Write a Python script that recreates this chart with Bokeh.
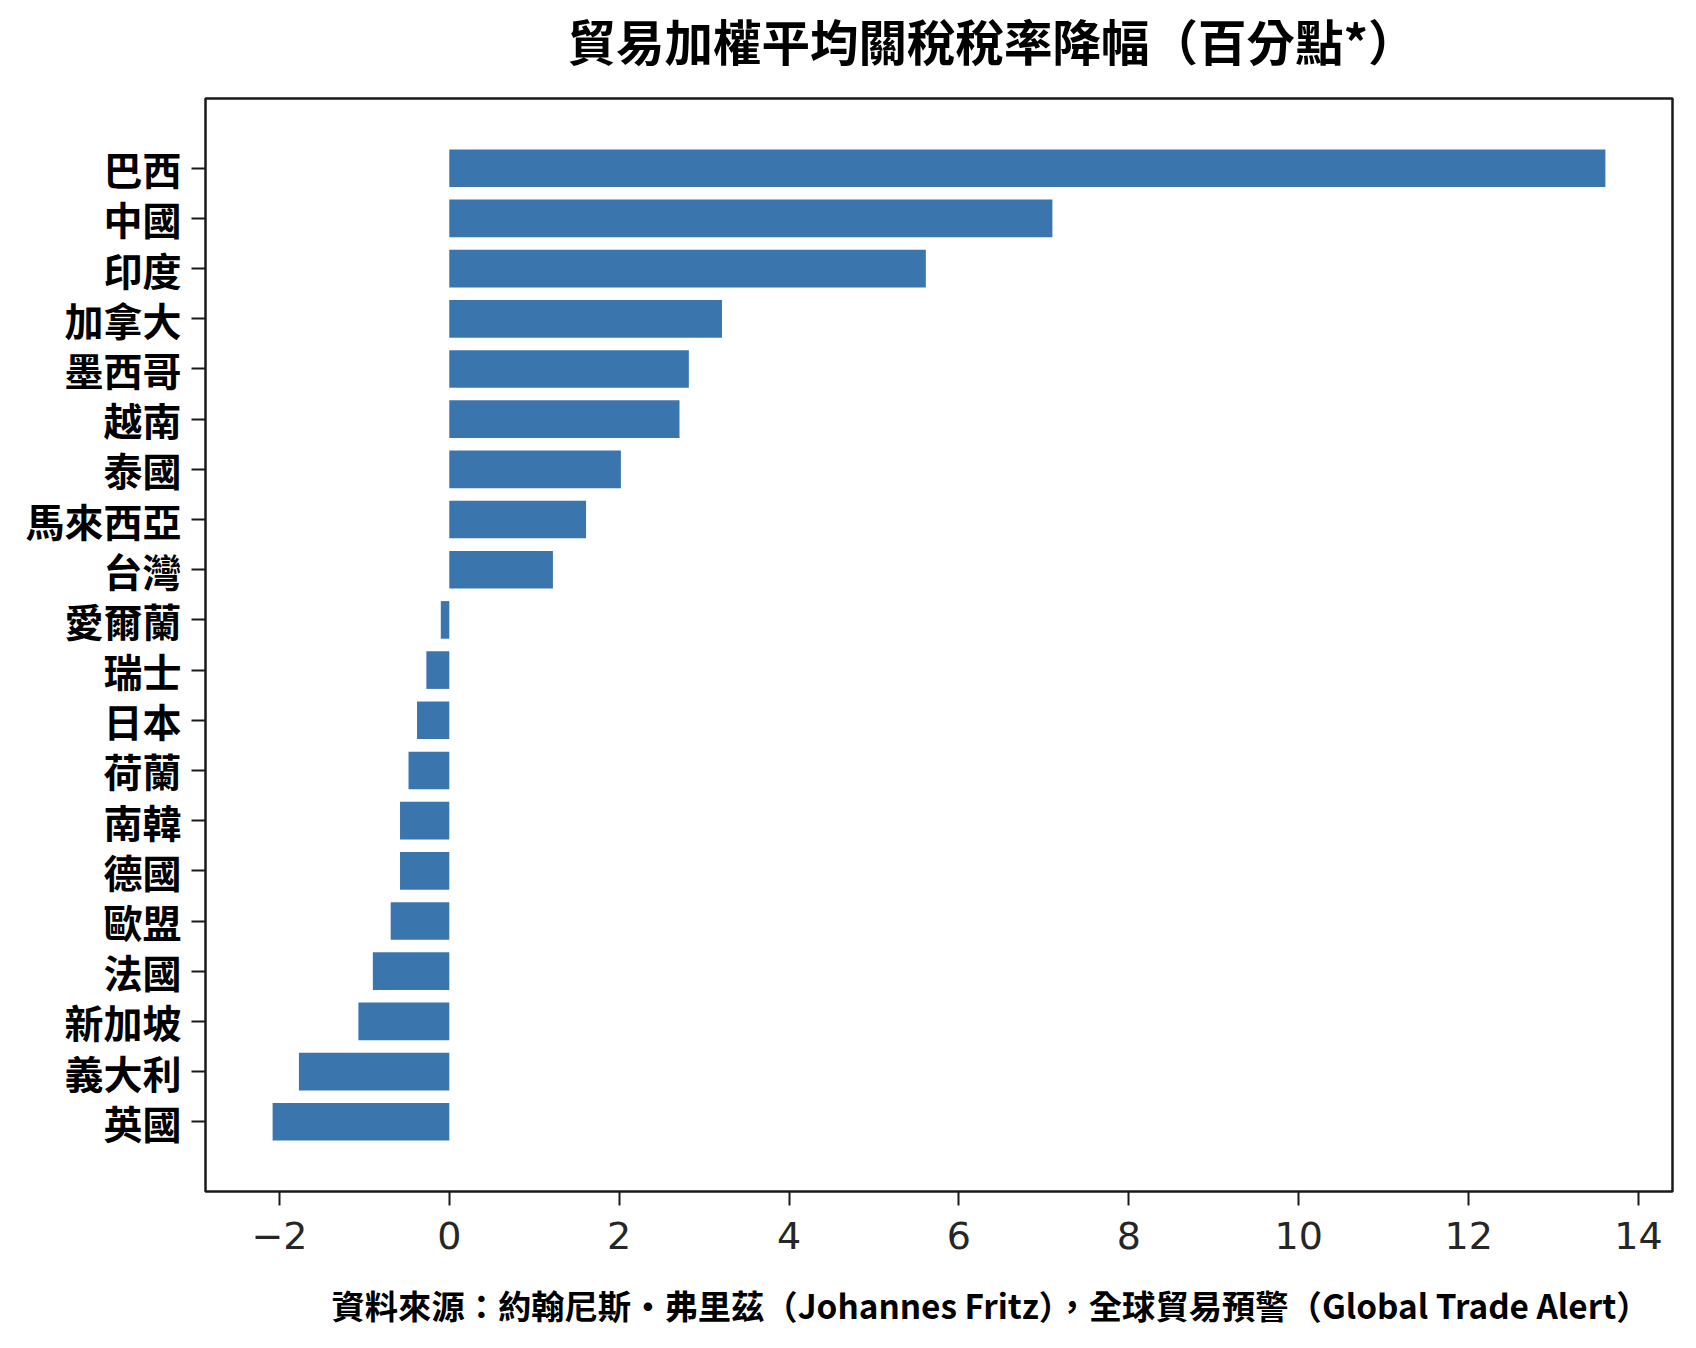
from bokeh.plotting import figure
from bokeh.models import Range1d, FixedTicker, Title, ColumnDataSource
from bokeh.embed import file_html
from bokeh.resources import INLINE

# 國家 / 降幅 (百分點), 由上而下
countries = ['巴西', '中國', '印度', '加拿大', '墨西哥', '越南', '泰國', '馬來西亞', '台灣', '愛爾蘭',
             '瑞士', '日本', '荷蘭', '南韓', '德國', '歐盟', '法國', '新加坡', '義大利', '英國']
cuts = [13.61, 7.10, 5.61, 3.21, 2.82, 2.71, 2.02, 1.61, 1.22, -0.10,
        -0.27, -0.38, -0.48, -0.58, -0.58, -0.69, -0.90, -1.07, -1.77, -2.08]
x_ticks = [-2, 0, 2, 4, 6, 8, 10, 12, 14]

title_text = '貿易加權平均關稅稅率降幅（百分點*）'
source_text = '資料來源：約翰尼斯・弗里茲（Johannes Fritz），全球貿易預警（Global Trade Alert）'

CJK = 'Noto Sans CJK TC'

n = len(countries)
ypos = [n - 1 - i for i in range(n)]
source = ColumnDataSource(dict(y=ypos, value=cuts, name=countries))

# frame: x 205..1672, y 98..1191
p = figure(width=1680, height=1340, output_backend="svg", toolbar_location=None,
           x_range=Range1d(-2.87, 14.40), y_range=Range1d(-1.39, n + 0.39),
           min_border_left=205, min_border_right=8, min_border_top=98, min_border_bottom=149,
           title=title_text)

p.hbar(y='y', left=0, right='value', height=0.75, source=source,
       fill_color='#3a75ae', line_color=None)

p.grid.visible = False
p.background_fill_color = 'white'
p.border_fill_color = 'white'
p.outline_line_color = '#1a1a1a'
p.outline_line_width = 2.5
p.outline_line_alpha = 1.0

# x axis
xa = p.xaxis[0]
xa.ticker = FixedTicker(ticks=x_ticks)
xa.major_label_overrides = {t: str(t).replace('-', '\u2212') for t in x_ticks}
xa.axis_line_color = None
xa.minor_tick_line_color = None
xa.major_tick_line_color = '#1a1a1a'
xa.major_tick_line_width = 2
xa.major_tick_in = 0
xa.major_tick_out = 14
xa.major_label_standoff = 16
xa.major_label_text_font = 'DejaVu Sans'
xa.major_label_text_font_size = '38px'
xa.major_label_text_color = '#262626'

# y axis
ya = p.yaxis[0]
ya.ticker = FixedTicker(ticks=ypos)
ya.major_label_overrides = {y: c for y, c in zip(ypos, countries)}
ya.axis_line_color = None
ya.minor_tick_line_color = None
ya.major_tick_line_color = '#1a1a1a'
ya.major_tick_line_width = 2
ya.major_tick_in = 0
ya.major_tick_out = 14
ya.major_label_standoff = 10
ya.major_label_text_font = CJK
ya.major_label_text_font_style = 'bold'
ya.major_label_text_font_size = '39px'
ya.major_label_text_color = 'black'

p.title.text_font = CJK
p.title.text_font_style = 'bold'
p.title.text_font_size = '48.5px'
p.title.text_color = 'black'
p.title.align = 'left'
p.title.offset = 362
p.title.vertical_align = 'top'
p.title.standoff = 9

# empty spacers to push the title up and the source note down
p.add_layout(Title(text=' ', text_font_size='1px', standoff=13.6), 'above')
p.add_layout(Title(text=' ', text_font_size='1px', standoff=12.6), 'below')

src = Title(text=source_text, align='left', offset=126, standoff=20,
            text_font=CJK, text_font_style='bold', text_font_size='33.3px', text_color='black')
p.add_layout(src, 'below')

open("out.html", "w").write(file_html(p, INLINE))
